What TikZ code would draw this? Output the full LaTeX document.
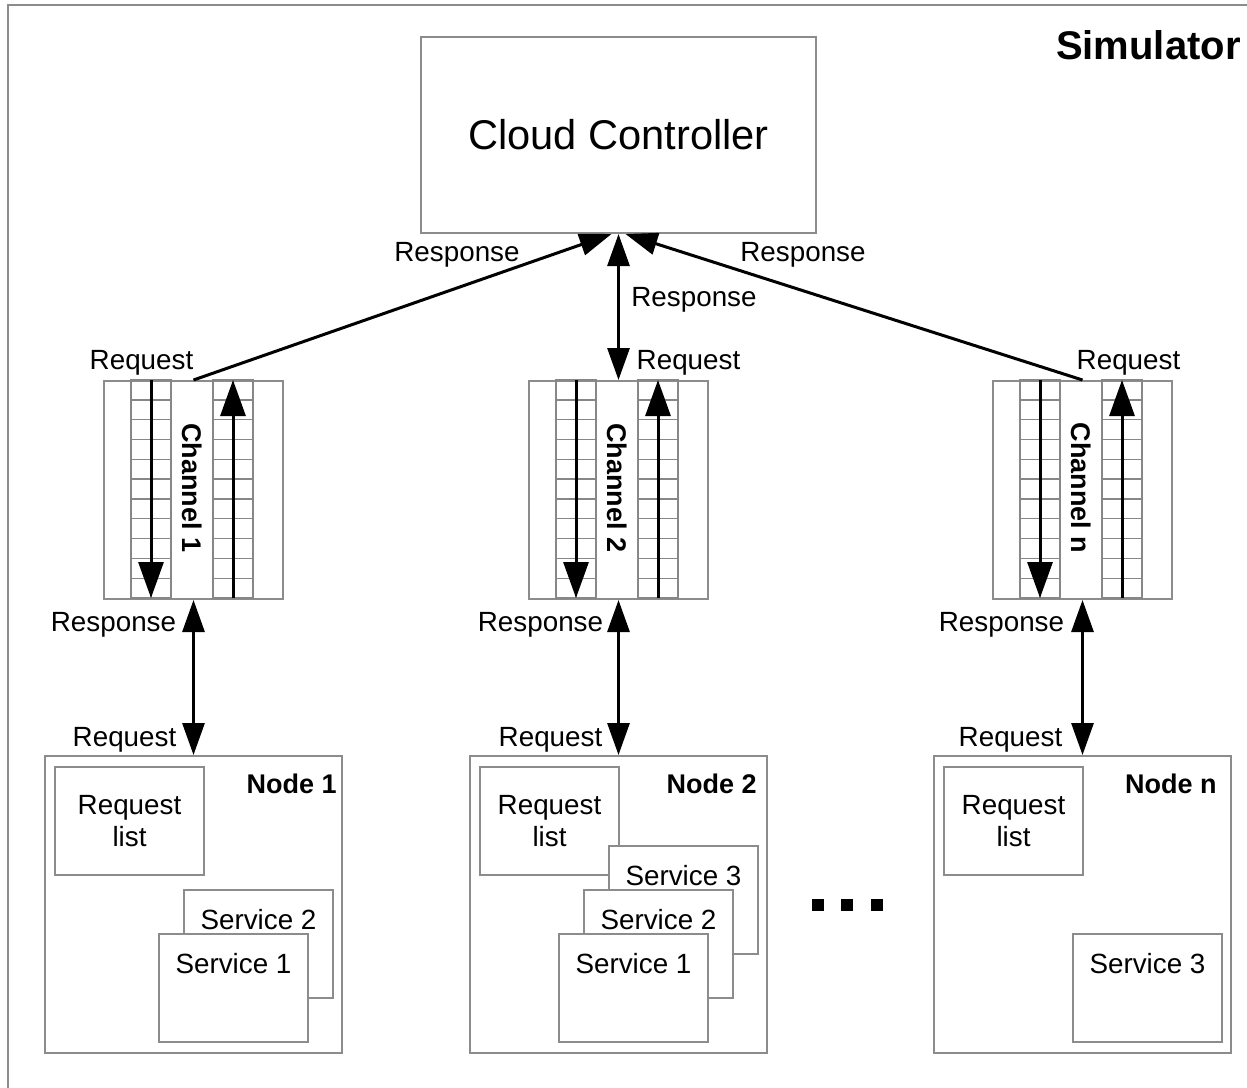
\documentclass[tikz,border=0pt]{standalone}
\usepackage{fontspec}
\setmainfont{Liberation Sans}
\usetikzlibrary{positioning,arrows.meta}
\definecolor{boxgray}{RGB}{140,140,140}
\definecolor{gridgray}{RGB}{135,135,135}
\tikzset{%
    box/.style={draw=boxgray,line width=1pt,inner sep=0pt,fill=white},
    gridline/.style={draw=gridgray,line width=0.7pt},
    lbl/.style={font=\fontsize{13.9}{16}\selectfont,inner sep=0pt,anchor=base},
    nodetitle/.style={font=\fontsize{13.5}{16}\selectfont\bfseries,inner sep=0pt,anchor=base east},
    listbox/.style={box,minimum height=54pt,align=center,font=\fontsize{13.9}{16}\selectfont,anchor=north west},
    servicebox/.style={box,minimum width=74.5pt,minimum height=54pt,text height=10pt,text depth=25pt,font=\fontsize{13.9}{16}\selectfont,anchor=north west},
    link/.style={line width=1.5pt,-{Triangle[length=16pt,width=11pt]}},
    duplex/.style={line width=1.5pt,{Triangle[length=16pt,width=11pt]}-{Triangle[length=16pt,width=11pt]}},
    flow/.style={line width=1.5pt,-{Triangle[length=18pt,width=12.5pt]}},
    dot/.style={fill,minimum size=6pt,inner sep=0pt},
    pics/channel/.style 2 args={code={%
            % frame
            \node[box,minimum width=89.5pt,minimum height=109pt,anchor=north west] (#1) at (0,0) {};
            % queues
            \foreach \qx in {28,110}{%
                \draw[gridline] (\qx,0) rectangle (\qx+40,218);
                \draw[gridline] (\qx+20,0) -- (\qx+20,218);
                \foreach \qy in {19.8,39.6,59.5,79.3,99.1,118.9,138.7,158.5,178.4,198.2}
                    \draw[gridline] (\qx,\qy) -- (\qx+40,\qy);
            }
            % flows
            \draw[flow] (48,0) -- (48,218);
            \draw[flow] (130,218) -- (130,0);
            % text
            \node[font=\fontsize{13.5}{16}\selectfont\bfseries,inner sep=0pt,rotate=-90] (#1-text) at (89.5,108) {#2};
        }},
}

\begin{document}
\begin{tikzpicture}[x=0.5pt,y=-0.5pt]

    \useasboundingbox (0,0) rectangle (1247,1087);
    % simulator frame
    \begin{scope}
        \clip (0,0) rectangle (1247,1087);
        \draw[boxgray,line width=1pt] (8,5) rectangle (1280,1120);
    \end{scope}
    \node[font=\fontsize{20}{24}\selectfont\bfseries,inner sep=0pt,anchor=base east] (sim) at (1241,59) {Simulator};

    % controller
    \node[box,minimum width=197.5pt,minimum height=98pt,anchor=north west,font=\fontsize{20.8}{24}\selectfont] (ctrl) at (420,36) {Cloud Controller};

    % channels
    \pic at (103,380) {channel={ch1}{Channel 1}};
    \pic at (528,380) {channel={ch2}{Channel 2}};
    \pic at (992,380) {channel={chn}{Channel n}};

    % node 1
    \node[box,minimum size=148.5pt,anchor=north west] (node1) at (44,755) {};
    \node[nodetitle] (node1-title) at ([shift={(-6,38)}]node1.north east) {Node 1};
    \node[listbox,minimum width=74.5pt] (node1-list) at ([shift={(10,11)}]node1.north west) {Request\\list};
    \node[servicebox] (node1-s2) at ([shift={(139,134)}]node1.north west) {Service 2};
    \node[servicebox] (node1-s1) at ([shift={(114,178)}]node1.north west) {Service 1};

    % node 2
    \node[box,minimum size=148.5pt,anchor=north west] (node2) at (469,755) {};
    \node[nodetitle] (node2-title) at ([shift={(-11,38)}]node2.north east) {Node 2};
    \node[listbox,minimum width=69.5pt] (node2-list) at ([shift={(10,11)}]node2.north west) {Request\\list};
    \node[servicebox] (node2-s3) at ([shift={(139,90)}]node2.north west) {Service 3};
    \node[servicebox] (node2-s2) at ([shift={(114,134)}]node2.north west) {Service 2};
    \node[servicebox] (node2-s1) at ([shift={(89,178)}]node2.north west) {Service 1};

    % node n
    \node[box,minimum size=148.5pt,anchor=north west] (noden) at (933,755) {};
    \node[nodetitle] (noden-title) at ([shift={(-15,38)}]noden.north east) {Node n};
    \node[listbox,minimum width=69.5pt] (noden-list) at ([shift={(10,11)}]noden.north west) {Request\\list};
    \node[servicebox] (noden-s3) at ([shift={(139,178)}]noden.north west) {Service 3};

    % more nodes
    \foreach \dx [count=\k] in {818,847,877}
        \node[dot] (dot\k) at (\dx,905) {};

    % arrows
    \draw[link] (ch1.north) -- ([shift={(-7,0)}]ctrl.south);
    \draw[link] (chn.north) -- ([shift={(7,0)}]ctrl.south);
    \draw[duplex] (ctrl.south) -- (ch2.north);
    \foreach \i in {1,2,n}
        \draw[duplex] (ch\i.south) -- (node\i.north);

    % labels
    \node[lbl] (resp-l) at (457,261) {Response};
    \node[lbl] (resp-r) at (803,261) {Response};
    \node[lbl] (resp-c) at (694,306) {Response};
    \node[lbl] (req-ch1) at (141.5,369) {Request};
    \node[lbl] (req-ch2) at (688.5,369) {Request};
    \node[lbl] (req-chn) at (1128.5,369) {Request};
    \node[lbl] (resp-ch1) at (113.5,631) {Response};
    \node[lbl] (resp-ch2) at (540.5,631) {Response};
    \node[lbl] (resp-chn) at (1001.5,631) {Response};
    \node[lbl] (req-node1) at (124.5,746) {Request};
    \node[lbl] (req-node2) at (550.5,746) {Request};
    \node[lbl] (req-noden) at (1010.5,746) {Request};

\end{tikzpicture}
\end{document}
